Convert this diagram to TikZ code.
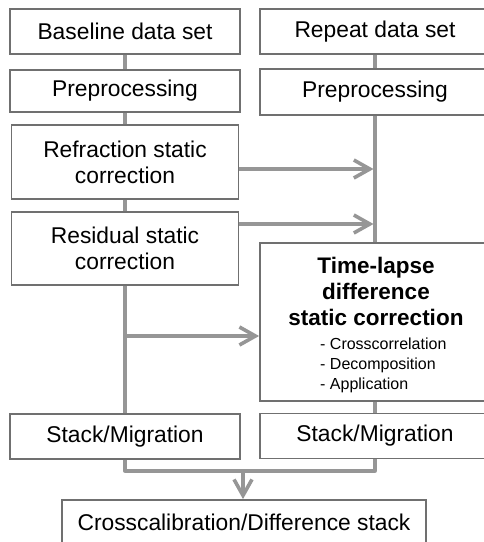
\documentclass[tikz,border=0pt]{standalone}
\usepackage{fontspec}
\setmainfont{Liberation Sans}
\usetikzlibrary{arrows.meta,calc}
\definecolor{boxgray}{RGB}{112,112,112}
\definecolor{linegray}{RGB}{150,150,150}
\tikzset{>={Straight Barb[length=16pt,width=18pt,line width=3.6pt]}}
\tikzstyle{box}=[rectangle,draw=boxgray,line width=1.8pt,fill=white,inner sep=0pt,align=center,minimum width=230pt,minimum height=45pt,font=\fontsize{22.8}{26}\selectfont]
\tikzstyle{link}=[draw=linegray,line width=3.3pt,line join=round]

\begin{document}
\begin{tikzpicture}[x=1pt,y=-1pt]
	\useasboundingbox (0,0) rectangle (484,542);
	\def \colL {125};
	\def \colR {375};

	\coordinate (hit1) at (\colR,169);
	\coordinate (hit2) at (\colR,224);
	\coordinate (tap) at (\colL,336);
	\coordinate (join) at (243,471);

	% left column
	\node[box] (base) at (\colL,31.5) {Baseline data set};
	\node[box, minimum height=42pt] (preL) at (\colL,91) {Preprocessing};
	\node[box, minimum width=227pt, minimum height=74pt] (refr) at (\colL,162) {Refraction static\\correction};
	\node[box, minimum width=227pt, minimum height=73pt] (resid) at (\colL,248.5) {Residual static\\correction};
	\node[box] (smL) at (\colL,436.5) {Stack/Migration};

	% right column
	\node[box] (rep) at (\colR,31.5) {Repeat data set};
	\node[box, minimum height=46pt] (preR) at (\colR,92) {Preprocessing};
	\node[box, minimum height=158pt] (tl) at (\colR,322) {};
	\node[box] (smR) at (\colR,436) {Stack/Migration};

	\node[box, minimum width=364pt] (cross) at (244,522.5) {Crosscalibration/Difference stack};

	% text of the time-lapse box
	\node[inner sep=0pt, align=center, font=\fontsize{22.5}{26}\selectfont\bfseries] (tltitle) at (376,291) {Time-lapse\\difference\\static correction};
	\node[inner sep=0pt, align=left, anchor=west, font=\fontsize{16}{20}\selectfont] (tllist) at (320,365) {- Crosscorrelation\\- Decomposition\\- Application};

	% vertical links
	\draw[link] (base) -- (preL);
	\draw[link] (preL) -- (refr);
	\draw[link] (refr) -- (resid);
	\draw[link] (resid) -- (smL);
	\draw[link] (rep) -- (preR);
	\draw[link] (preR) -- (tl);
	\draw[link] (tl) -- (smR);

	% arrows across
	\draw[link,->] (refr.east |- hit1) -- ($(hit1)+(-1.5,0)$);
	\draw[link,->] (resid.east |- hit2) -- ($(hit2)+(-1.5,0)$);
	\draw[link,->] (tap) -- (tap -| tl.west);

	% merge into the difference stack
	\draw[link] (smL.south) |- (join) -| (smR.south);
	\draw[link,->] (join) -- (join |- cross.north);
\end{tikzpicture}
\end{document}
